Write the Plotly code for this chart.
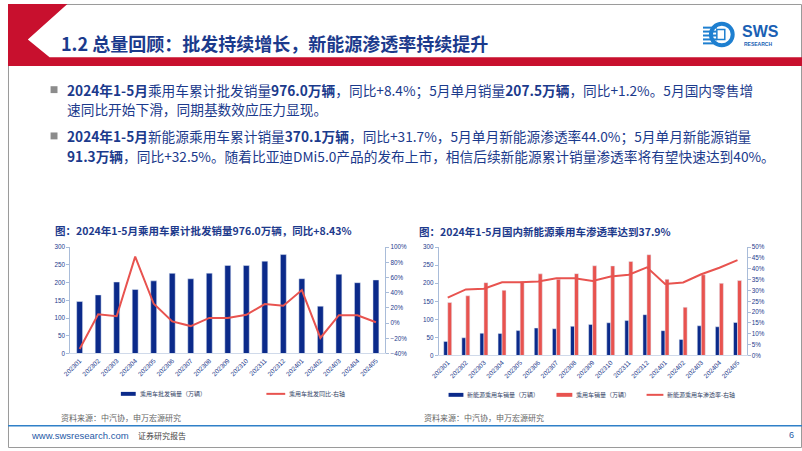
import plotly.graph_objects as go

# ---------------- data ----------------
months = ["202301", "202302", "202303", "202304", "202305", "202306", "202307", "202308",
          "202309", "202310", "202311", "202312", "202401", "202402", "202403", "202404", "202405"]
pv_sales = [146.6, 165.3, 201.7, 180.5, 204.9, 226.1, 210.8, 226.7, 248.5, 248.1,
            260.5, 279.1, 211.0, 133.5, 223.5, 199.8, 207.5]
pv_yoy = [-0.34, 0.115, 0.09, 0.875, 0.255, 0.022, -0.039, 0.069, 0.069, 0.11,
          0.25, 0.23, 0.435, -0.195, 0.104, 0.104, 0.012]
nev_sales = [39.0, 49.0, 61.6, 60.7, 68.9, 76.0, 74.0, 80.7, 86.0, 90.6,
             96.7, 113.0, 68.7, 44.3, 82.2, 79.5, 91.3]
nev_pen = [0.267, 0.305, 0.308, 0.338, 0.338, 0.341, 0.356, 0.356, 0.344, 0.365,
           0.373, 0.407, 0.330, 0.337, 0.375, 0.405, 0.440]
left_ticks = [0, 50, 100, 150, 200, 250, 300]

W, H = 802, 451
BLUE = "#0B2A8A"
RED = "#E8534F"
NAVY = "#1D3A8C"
AXC = "#A9BCD9"
FONT = "Noto Sans CJK SC"


def px(x):
    return x / W


def py(y):
    return 1 - y / H


fig = go.Figure()

# left chart
fig.add_trace(go.Bar(x=months, y=pv_sales, xaxis="x", yaxis="y", marker_color=BLUE,
                     width=0.32, name="乘用车批发销量（万辆）"))
fig.add_trace(go.Scatter(x=months, y=pv_yoy, xaxis="x", yaxis="y2", mode="lines",
                         line=dict(color=RED, width=2), name="乘用车批发同比-右轴"))
# right chart
fig.add_trace(go.Bar(x=months, y=nev_sales, xaxis="x2", yaxis="y3", marker_color=BLUE,
                     width=0.22, offset=-0.22, name="新能源乘用车销量（万辆）"))
fig.add_trace(go.Bar(x=months, y=pv_sales, xaxis="x2", yaxis="y3", marker_color=RED,
                     width=0.22, offset=0.0, name="乘用车销量（万辆）"))
fig.add_trace(go.Scatter(x=months, y=nev_pen, xaxis="x2", yaxis="y4", mode="lines",
                         line=dict(color=RED, width=2), name="新能源乘用车渗透率-右轴"))

tickf = dict(family="Arial", size=6.3, color=NAVY)
xtickf = dict(family="Arial", size=6.5, color=NAVY)

L = dict(x0=63, x1=381, y0=247, y1=355)
R = dict(x0=435, x1=746, y0=247, y1=357)

common_x = dict(type="category", tickangle=-45, tickfont=xtickf, showline=True,
                linecolor="#D0DAEA", linewidth=1, ticks="", showgrid=False, zeroline=False)
common_y = dict(showgrid=False, zeroline=False, showline=True, linecolor=AXC, linewidth=1,
                ticks="outside", ticklen=3, tickcolor=AXC, tickfont=tickf)

fig.update_layout(
    width=W, height=H, autosize=False,
    margin=dict(l=0, r=0, t=0, b=0),
    paper_bgcolor="white", plot_bgcolor="white",
    showlegend=False, barmode="overlay",
    font=dict(family=FONT),
    xaxis=dict(domain=[px(L["x0"]), px(L["x1"])], anchor="y", **common_x),
    yaxis=dict(domain=[py(L["y1"]), py(L["y0"])], anchor="x", range=[0, 300],
               tickvals=left_ticks, **common_y),
    yaxis2=dict(overlaying="y", side="right", anchor="x", range=[-0.4, 1.0], dtick=0.2,
                tickformat=".0%", **common_y),
    xaxis2=dict(domain=[px(R["x0"]), px(R["x1"])], anchor="y3", **common_x),
    yaxis3=dict(domain=[py(R["y1"]), py(R["y0"])], anchor="x2", range=[0, 300],
                tickvals=left_ticks, **common_y),
    yaxis4=dict(overlaying="y3", side="right", anchor="x2", range=[0, 0.5], dtick=0.05,
                tickformat=".0%", **common_y),
)

shapes = []
annots = []

# slide border
shapes.append(dict(type="rect", xref="paper", yref="paper", x0=px(0.5), x1=px(801.5),
                   y0=py(450.5), y1=py(0.5), line=dict(color="#9A9A9A", width=1)))

# header red shape
pts = [(0, 0), (60, 0), (20, 36), (42, 54), (802, 54), (802, 63), (0, 63)]
path = "M " + " L ".join(f"{px(x):.5f},{py(y):.5f}" for x, y in pts) + " Z"
shapes.append(dict(type="path", xref="paper", yref="paper", path=path,
                   fillcolor="#C8102E", line=dict(width=0)))

# title
annots.append(dict(text="<b>1.2 总量回顾：批发持续增长，新能源渗透率持续提升</b>", x=px(52), y=py(40),
                    xref="paper", yref="paper", xanchor="left", yanchor="middle", showarrow=False,
                    font=dict(family=FONT, size=18, color="#1B3A8C")))

# logo
LB = "#1E7FD0"
shapes.append(dict(type="circle", xref="paper", yref="paper", x0=px(710), x1=px(732),
                   y0=py(42), y1=py(20), line=dict(color=LB, width=4), fillcolor="white"))
for yy in [24, 28, 32, 36, 40]:
    shapes.append(dict(type="line", xref="paper", yref="paper", x0=px(702), x1=px(716),
                       y0=py(yy), y1=py(yy), line=dict(color=LB, width=2)))
shapes.append(dict(type="rect", xref="paper", yref="paper", x0=px(716), x1=px(724),
                   y0=py(36), y1=py(26), fillcolor="white", line=dict(color=LB, width=1.5)))
annots.append(dict(text="<b>SWS</b>", x=px(739), y=py(27.5), xref="paper", yref="paper",
                    xanchor="left", yanchor="middle", showarrow=False,
                    font=dict(family="Arial Black, Arial", size=16, color="#1A5FB4")))
annots.append(dict(text="<b>RESEARCH</b>", x=px(741), y=py(40.5), xref="paper", yref="paper",
                    xanchor="left", yanchor="middle", showarrow=False,
                    font=dict(family="Arial", size=5, color="#1A5FB4")))

# bullets
bullet_lines = [
    (87, True, "<b>2024年1-5月</b>乘用车累计批发销量<b>976.0万辆</b>，同比+8.4%；5月单月销量<b>207.5万辆</b>，同比+1.2%。5月国内零售增"),
    (107, False, "速同比开始下滑，同期基数效应压力显现。"),
    (134, True, "<b>2024年1-5月</b>新能源乘用车累计销量<b>370.1万辆</b>，同比+31.7%，5月单月新能源渗透率44.0%；5月单月新能源销量"),
    (154, False, "<b>91.3万辆</b>，同比+32.5%。随着比亚迪DMi5.0产品的发布上市，相信后续新能源累计销量渗透率将有望快速达到40%。"),
]
for y, bullet, txt in bullet_lines:
    if bullet:
        shapes.append(dict(type="rect", xref="paper", yref="paper", x0=px(43), x1=px(50),
                           y0=py(y + 3.5), y1=py(y - 3.5), fillcolor="#8C8C8C", line=dict(width=0)))
    annots.append(dict(text=txt, x=px(58), y=py(y), xref="paper", yref="paper",
                        xanchor="left", yanchor="middle", showarrow=False,
                        font=dict(family=FONT, size=13.7, color="#1B3A8C")))

# chart titles
annots.append(dict(text="<b>图：2024年1-5月乘用车累计批发销量976.0万辆，同比+8.43%</b>", x=px(45), y=py(230),
                    xref="paper", yref="paper", xanchor="left", yanchor="middle", showarrow=False,
                    font=dict(family=FONT, size=10.5, color=NAVY)))
annots.append(dict(text="<b>图：2024年1-5月国内新能源乘用车渗透率达到37.9%</b>", x=px(413), y=py(231),
                    xref="paper", yref="paper", xanchor="left", yanchor="middle", showarrow=False,
                    font=dict(family=FONT, size=10.5, color=NAVY)))

# legends (manual)
LF = dict(family=FONT, size=6, color="#333F66")


def leg_rect(x0, x1, y, color, label):
    shapes.append(dict(type="rect", xref="paper", yref="paper", x0=px(x0), x1=px(x1),
                       y0=py(y + 2), y1=py(y - 2), fillcolor=color, line=dict(width=0)))
    annots.append(dict(text=label, x=px(x1 + 2), y=py(y), xref="paper", yref="paper",
                        xanchor="left", yanchor="middle", showarrow=False, font=LF))


def leg_line(x0, x1, y, color, label):
    shapes.append(dict(type="line", xref="paper", yref="paper", x0=px(x0), x1=px(x1),
                       y0=py(y), y1=py(y), line=dict(color=color, width=2)))
    annots.append(dict(text=label, x=px(x1 + 2), y=py(y), xref="paper", yref="paper",
                        xanchor="left", yanchor="middle", showarrow=False, font=LF))


leg_rect(114, 129, 396, BLUE, "乘用车批发销量（万辆）")
leg_line(261, 280, 396, RED, "乘用车批发同比-右轴")
leg_rect(445, 460, 397, BLUE, "新能源乘用车销量（万辆）")
leg_rect(554, 570, 397, RED, "乘用车销量（万辆）")
leg_line(645, 662, 397, RED, "新能源乘用车渗透率-右轴")

# sources
for x in (52, 418):
    annots.append(dict(text="资料来源：中汽协，申万宏源研究", x=px(x), y=py(420), xref="paper", yref="paper",
                        xanchor="left", yanchor="middle", showarrow=False,
                        font=dict(family=FONT, size=8, color="#666666")))

# footer
shapes.append(dict(type="line", xref="paper", yref="paper", x0=px(0), x1=px(802),
                   y0=py(428.5), y1=py(428.5), line=dict(color="#2F80C8", width=1.5)))
annots.append(dict(text="www.swsresearch.com", x=px(21), y=py(438), xref="paper", yref="paper",
                    xanchor="left", yanchor="middle", showarrow=False,
                    font=dict(family="Arial", size=9.5, color="#1F5AA6")))
annots.append(dict(text="证券研究报告", x=px(129), y=py(438), xref="paper", yref="paper",
                    xanchor="left", yanchor="middle", showarrow=False,
                    font=dict(family=FONT, size=8, color="#444444")))
annots.append(dict(text="6", x=px(791), y=py(438), xref="paper", yref="paper",
                    xanchor="center", yanchor="middle", showarrow=False,
                    font=dict(family="Arial", size=9, color="#1F5AA6")))

fig.update_layout(shapes=shapes, annotations=annots)
fig.write_html("out.html", config={"displayModeBar": False, "staticPlot": True},
               post_script="document.body.style.margin='0';document.body.style.overflow='hidden';")
